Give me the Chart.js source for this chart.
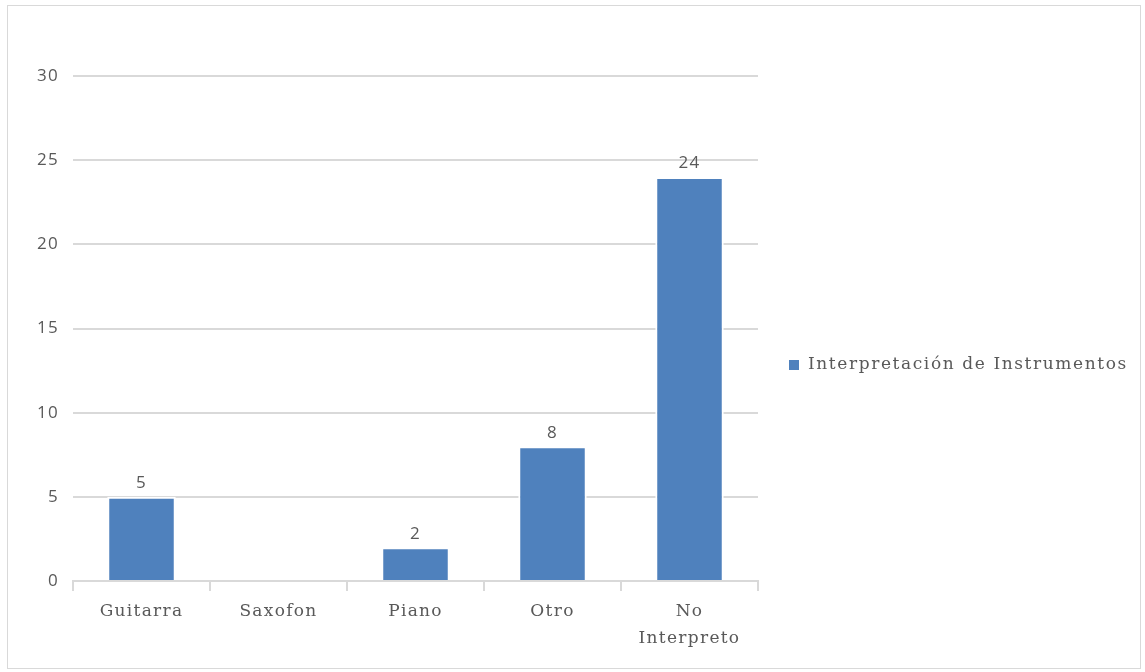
<!DOCTYPE html>
<html>
<head>
<meta charset="utf-8">
<script src="https://cdn.jsdelivr.net/npm/chart.js@4"></script>
<style>
  body { margin: 0; background: #fff; }
  #box { position: absolute; left: 7px; top: 5px; width: 1132px; height: 662px; border: 1px solid #d9d9d9; }
  canvas { display: block; }
</style>
</head>
<body>
<div id="box"><canvas id="c" width="1132" height="662"></canvas></div>
<script>
// datos del grafico
var categorias = ["Guitarra", "Saxofon", "Piano", "Otro", ["No", "Interpreto"]];
var valores = [5, 0, 2, 8, 24];
var serie = "Interpretación de Instrumentos";
var ticksY = [0, 5, 10, 15, 20, 25, 30];

var gris = "#595959";
var azul = "#4f81bd";
var serif = "'DejaVu Serif', serif";
var sans = "'Open Sans', 'Noto Sans', sans-serif";

// el texto del original esta algo espaciado
var espaciado = {
    id: "espaciado",
    beforeLayout: function(chart) { chart.ctx.letterSpacing = "1.3px"; },
    beforeDraw: function(chart) { chart.ctx.letterSpacing = "1.3px"; }
};

// etiquetas encima de las barras
var etiquetas = {
    id: "etiquetas",
    afterDatasetsDraw: function(chart) {
        var ctx = chart.ctx;
        var meta = chart.getDatasetMeta(0);
        ctx.save();
        ctx.fillStyle = gris;
        ctx.font = "17px " + sans;
        ctx.textAlign = "center";
        ctx.textBaseline = "bottom";
        meta.data.forEach(function(bar, i) {
            var v = chart.data.datasets[0].data[i];
            if (!v) return;
            ctx.fillText(v, bar.x, bar.y - 5);
        });
        ctx.restore();
    }
};

// leyenda a la derecha (la de chart.js se recorta por el ancho maximo)
var leyenda = {
    id: "leyenda",
    afterDraw: function(chart) {
        var ctx = chart.ctx;
        var ds = chart.data.datasets[0];
        var x = chart.chartArea.right + 31;
        var y = 359;
        ctx.save();
        ctx.fillStyle = ds.backgroundColor;
        ctx.fillRect(x, y - 5, 10, 10);
        ctx.letterSpacing = "1.6px";
        ctx.fillStyle = gris;
        ctx.font = "17px " + serif;
        ctx.textAlign = "left";
        ctx.textBaseline = "middle";
        ctx.fillText(ds.label, x + 19, y);
        ctx.restore();
    }
};

var ctx = document.getElementById("c").getContext("2d");
var chart = new Chart(ctx, {
    type: "bar",
    data: {
        labels: categorias,
        datasets: [{
            label: serie,
            data: valores,
            backgroundColor: azul,
            borderColor: "#ffffff",
            borderWidth: { top: 2, left: 2, right: 2, bottom: 0 },
            borderSkipped: false,
            barPercentage: 0.5,
            categoryPercentage: 1
        }]
    },
    options: {
        responsive: false,
        animation: false,
        layout: { padding: { left: 20, top: 70, right: 382, bottom: 0 } },
        plugins: {
            legend: { display: false },
            tooltip: { enabled: false }
        },
        scales: {
            x: {
                grid: {
                    offset: true,
                    drawOnChartArea: false,
                    drawTicks: true,
                    tickLength: 10,
                    color: "#d9d9d9",
                    lineWidth: 2
                },
                border: { display: true, color: "#d9d9d9", width: 2 },
                ticks: { color: gris, font: { family: serif, size: 17, lineHeight: 1.6 }, padding: 7, maxRotation: 0 },
                afterFit: function(s) { s.height = 87; }
            },
            y: {
                min: 0,
                max: 30,
                afterBuildTicks: function(s) { s.ticks = ticksY.map(function(v) { return { value: v }; }); },
                grid: { color: "#d9d9d9", lineWidth: 2, drawTicks: false },
                border: { display: false },
                ticks: { color: gris, font: { family: sans, size: 17 }, padding: 14 },
                afterFit: function(s) { s.width = 45; }
            }
        }
    },
    plugins: [espaciado, etiquetas, leyenda]
});
</script>
</body>
</html>
